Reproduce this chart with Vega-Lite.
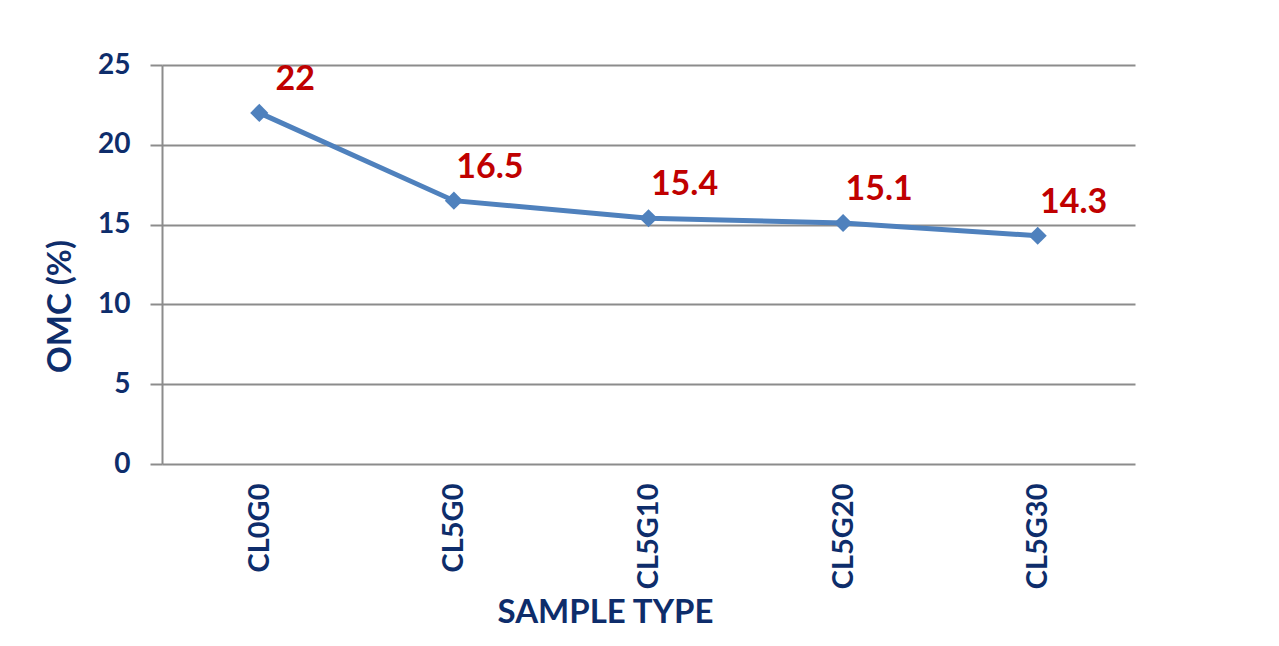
{
  "$schema": "https://vega.github.io/schema/vega-lite/v6.json",
  "autosize": "none",
  "width": 973,
  "height": 399,
  "padding": {"left": 162, "top": 65, "right": 144, "bottom": 182},
  "background": "white",
  "config": {
    "view": {"stroke": null},
    "font": "Lato"
  },
  "data": {
    "values": [
      {"sample": "CL0G0", "omc": 22},
      {"sample": "CL5G0", "omc": 16.5},
      {"sample": "CL5G10", "omc": 15.4},
      {"sample": "CL5G20", "omc": 15.1},
      {"sample": "CL5G30", "omc": 14.3}
    ]
  },
  "encoding": {
    "x": {
      "field": "sample",
      "type": "ordinal",
      "sort": null,
      "scale": {"type": "point", "padding": 0.5},
      "axis": {
        "title": "SAMPLE TYPE",
        "titleFont": "Lato",
        "titleFontSize": 33,
        "titleFontWeight": "bold",
        "titleColor": "#0E2D6B",
        "titleX": 443,
        "titleY": 158,
        "titleAlign": "center",
        "titleBaseline": "alphabetic",
        "labelAngle": 270,
        "labelAlign": "right",
        "labelBaseline": "middle",
        "labelFont": "Lato",
        "labelFontSize": 29,
        "labelFontWeight": "bold",
        "labelColor": "#0E2D6B",
        "labelPadding": 19,
        "ticks": false,
        "domain": false,
        "grid": false
      }
    },
    "y": {
      "field": "omc",
      "type": "quantitative",
      "scale": {"domain": [0, 25], "nice": false},
      "axis": {
        "title": "OMC (%)",
        "titleFont": "Lato",
        "titleFontSize": 33,
        "titleFontWeight": "bold",
        "titleColor": "#0E2D6B",
        "titleAngle": -90,
        "titleAlign": "center",
        "titleBaseline": "middle",
        "titleX": -102,
        "titleY": 241,
        "values": [0, 5, 10, 15, 20, 25],
        "labelFont": "Lato",
        "labelFontSize": 28,
        "labelFontWeight": "bold",
        "labelColor": "#0E2D6B",
        "labelPadding": 20,
        "tickSize": 12,
        "tickColor": "#8C8C8C",
        "tickWidth": 2,
        "domainColor": "#8C8C8C",
        "domainWidth": 2,
        "grid": true,
        "gridColor": "#8C8C8C",
        "gridWidth": 2
      }
    }
  },
  "layer": [
    {
      "mark": {"type": "line", "color": "#4F81BD", "strokeWidth": 5}
    },
    {
      "mark": {"type": "point", "shape": "diamond", "filled": true, "color": "#4F81BD", "size": 330, "opacity": 1}
    },
    {
      "mark": {"type": "text", "color": "#C00000", "font": "Lato", "fontSize": 34, "fontWeight": "bold", "dx": 36, "dy": -33, "align": "center", "baseline": "middle"},
      "encoding": {"text": {"field": "omc", "type": "quantitative"}}
    }
  ]
}
